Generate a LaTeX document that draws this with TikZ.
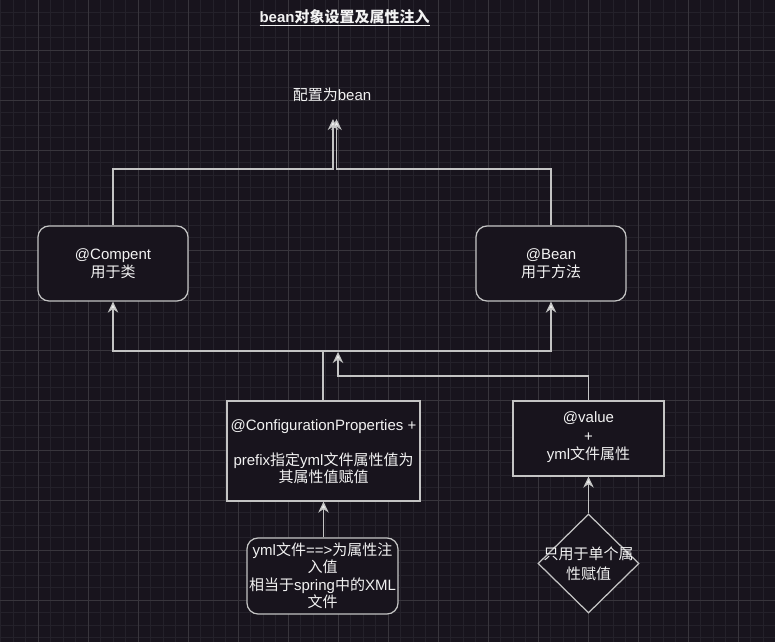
\documentclass[tikz,border=0pt]{standalone}
\usepackage{fontspec}
\setmainfont{Liberation Sans}
\newfontfamily\cjk{Noto Sans CJK SC}
\newcommand{\zh}[1]{{\cjk #1}}
\usetikzlibrary{arrows.meta,shapes.geometric}
\definecolor{bgc}{HTML}{18141D}
\definecolor{minorc}{HTML}{24212A}
\definecolor{majorc}{HTML}{38353C}
\definecolor{linec}{HTML}{C4C4C4}
\definecolor{txtc}{HTML}{F2F2F2}
\tikzset{
  txt/.style={text=txtc, font=\fontsize{15}{17.5}\selectfont, align=center, inner sep=0pt},
  rbox/.style={draw=linec, line width=1.25pt, fill=bgc, rounded corners=11pt, inner sep=0pt},
  sbox/.style={draw=linec, line width=1.25pt, fill=bgc, inner sep=0pt},
  arr/.style={draw=linec, line width=1.25pt, -{Stealth[length=11pt,width=10.5pt,inset=3.5pt,fill=txtc]}},
  minorline/.style={draw=minorc, line width=0.9pt},
  majorline/.style={draw=majorc, line width=0.9pt}
}
\begin{document}
\begin{tikzpicture}[x=1pt,y=-1pt]
\useasboundingbox (0,0) rectangle (775,642);
\fill[bgc] (0,0) rectangle (775,642);
% grid
\foreach \i in {0,...,62} { \draw[minorline] (\i*12.5+0.5,0) -- (\i*12.5+0.5,642); }
\foreach \i in {1,...,51} { \draw[minorline] (0,\i*12.5) -- (775,\i*12.5); }
\foreach \i in {0,...,14} { \draw[majorline] (38+\i*50,0) -- (38+\i*50,642); }
\foreach \i in {1,...,12} { \draw[majorline] (0,\i*50) -- (775,\i*50); }

% title
\node[txt, font=\fontsize{15}{17.5}\selectfont\bfseries] (title) at (344.5,18) {\underline{bean\zh{对象设置及属性注入}}};

% target label
\node[txt] (target) at (332,95) {\zh{配置为}bean};

% boxes
\node[rbox, minimum width=150pt, minimum height=75pt] (comp) at (113,263.5) {};
\node[txt] at (comp) {@Compent\\\zh{用于类}};
\node[rbox, minimum width=150pt, minimum height=75pt] (bean) at (551,263.5) {};
\node[txt] at (bean) {@Bean\\\zh{用于方法}};

\node[sbox, minimum width=193pt, minimum height=100pt] (cfg) at (323.5,451) {};
\node[txt] at ([yshift=-0.5pt]cfg.center) {@ConfigurationProperties +\\[17.5pt]prefix\zh{指定}yml\zh{文件属性值为}\\\zh{其属性值赋值}};

\node[sbox, minimum width=151pt, minimum height=75pt] (val) at (588.5,438.5) {};
\node[txt, font=\fontsize{15}{18.5}\selectfont] at ([yshift=1pt]val.center) {@value\\+\\yml\zh{文件属性}};

\node[rbox, minimum width=151pt, minimum height=76pt] (yml) at (322.5,576) {};
\node[txt] at ([yshift=0.5pt]yml.center) {yml\zh{文件}==>\zh{为属性注}\\\zh{入值}\\\zh{相当于}spring\zh{中的}XML\\\zh{文件}};

\node[diamond, draw=linec, line width=1.25pt, fill=bgc, minimum width=101pt, minimum height=99pt, inner sep=0pt] (dia) at (588.5,563.5) {};
\node[txt, font=\fontsize{15}{20}\selectfont] at ([yshift=-0.5pt]dia.center) {\zh{只用于单个属}\\\zh{性赋值}};

% connectors
\coordinate (jl) at (333,169);
\coordinate (jr) at (336.5,169);
\coordinate (tl) at (333,119);
\coordinate (tr) at (336.5,119);
\draw[arr] (comp.north) |- (jl) -- (tl);
\draw[arr] (bean.north) |- (jr) -- (tr);

\coordinate (hb) at (323,351);
\draw[arr] (cfg.north -| hb) -- (hb) -| (comp.south);
\draw[arr] (cfg.north -| hb) -- (hb) -| (bean.south);

\coordinate (hv) at (338,376);
\coordinate (tv) at (338,352);
\draw[arr] (val.north) |- (hv) -- (tv);

\draw[arr] (yml.north -| cfg.south) -- (cfg.south);
\draw[arr] (dia.north) -- (val.south);
\end{tikzpicture}
\end{document}
